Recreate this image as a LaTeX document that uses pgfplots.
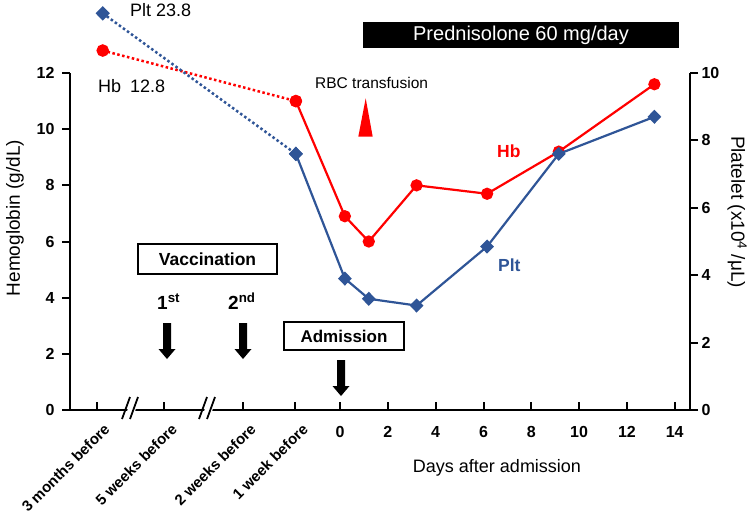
\documentclass[border=0pt]{standalone}
\usepackage{fontspec}
\setmainfont{Liberation Sans}
\usepackage{pgfplots}
\pgfplotsset{compat=1.18}
\definecolor{hbred}{RGB}{255,0,0}
\definecolor{pltblue}{RGB}{47,85,151}
\newcommand\fatarrow[3]{\fill[black] ({#1-4},#2) -- ({#1+4},#2) -- ({#1+4},{#3-10}) -- ({#1+8.5},{#3-10}) -- (#1,#3) -- ({#1-8.5},{#3-10}) -- ({#1-4},{#3-10}) -- cycle;}
\newcommand\brk[1]{%
  \fill[white] ({#1-7},419) -- ({#1+1},419) -- ({#1+7},397) -- ({#1-1},397) -- cycle;
  \draw[line width=1.8pt] ({#1-10},419) -- ({#1-2},397);
  \draw[line width=1.8pt] ({#1-2},419) -- ({#1+6},397);}
\begin{document}
\begin{tikzpicture}
\pgfplotsset{
  common/.style={scale only axis, width=620pt, height=337pt,
    at={(70pt,-410pt)}, anchor=south west,
    xmin=-11.30, xmax=14.64, clip=false,
    /pgf/number format/assume math mode=true,
    ticklabel style={font=\bfseries\fontsize{16}{18}\selectfont},
    axis line style={-, line width=2.2pt, black},
    major tick style={line width=2pt, black},
    major tick length=8pt,
  }
}
\begin{axis}[common, ymin=0, ymax=12,
  axis y line*=left, axis x line*=bottom,
  ytick={0,2,...,12}, xtick={0,2,...,14},
  xtick align=inside, ytick align=outside,
  yticklabel style={xshift=-4pt},
  xticklabel style={yshift=-13pt},
  extra x ticks={-10.18,-7.36,-4.06,-1.88},
  extra x tick labels={3 months before, 5 weeks before, 2 weeks before, 1 week before},
  extra x tick style={xticklabel style={font=\bfseries\fontsize{15}{17}\selectfont, rotate=45, anchor=north east, xshift=8pt, yshift=-0.6pt}},
]
\addplot[hbred, line width=2.5pt, dash pattern=on 2.5pt off 2.5pt, mark=*, mark size=5pt, mark options={solid}]
  coordinates {(-9.93,12.8) (-1.85,11.0)};
\addplot[hbred, line width=2.2pt, mark=*, mark size=5pt]
  coordinates {(-1.85,11.0) (0.2,6.9) (1.2,6.0) (3.2,8.0) (6.15,7.7) (9.15,9.2) (13.15,11.6)};
\end{axis}
\begin{axis}[common, ymin=0, ymax=10,
  axis y line*=right, axis x line=none,
  ytick={0,2,...,10}, ytick align=outside,
  yticklabel style={xshift=0pt},
]
\addplot[pltblue, line width=2.5pt, dash pattern=on 2.5pt off 2.5pt, mark=diamond*, mark size=5.5pt, mark options={solid, xscale=1.3}]
  coordinates {(-9.93,11.77) (-1.85,7.6)};
\addplot[pltblue, line width=2.2pt, mark=diamond*, mark size=5.5pt, mark options={xscale=1.3}]
  coordinates {(-1.85,7.6) (0.2,3.9) (1.2,3.3) (3.2,3.1) (6.15,4.85) (9.15,7.6) (13.15,8.7)};
\end{axis}
\begin{scope}[x=1pt, y=-1pt]
  % break marks
  \brk{132}
  \brk{209}
  % prednisolone bar
  \fill[black] (363,22) rectangle (679,48);
  \node[white, font=\fontsize{20}{24}\selectfont] at (521,35.5) {Prednisolone 60 mg/day};
  % value labels
  \node[anchor=base west, inner sep=0, font=\fontsize{18}{21}\selectfont] at (130,16) {Plt 23.8};
  \node[anchor=base west, inner sep=0, font=\fontsize{18}{21}\selectfont] at (98,92) {Hb\enspace 12.8};
  \node[anchor=base west, inner sep=0, font=\fontsize{15.5}{18}\selectfont] at (315,88) {RBC transfusion};
  \fill[hbred] (365.7,98.3) -- (372.7,136.7) -- (358.3,136.7) -- cycle;
  \node[anchor=base west, inner sep=0, hbred, font=\bfseries\fontsize{17.5}{21}\selectfont] at (497,157) {Hb};
  \node[anchor=base west, inner sep=0, pltblue, font=\bfseries\fontsize{17.5}{21}\selectfont] at (498,271) {Plt};
  % vaccination
  \draw[line width=1.4pt] (138,244) rectangle (277,274);
  \node[font=\bfseries\fontsize{17.5}{21}\selectfont] at (207.5,259) {Vaccination};
  \node[anchor=base west, inner sep=0, font=\bfseries\fontsize{19}{22}\selectfont] at (157,309) {1\textsuperscript{st}};
  \node[anchor=base west, inner sep=0, font=\bfseries\fontsize{19}{22}\selectfont] at (228,309) {2\textsuperscript{nd}};
  \fatarrow{167}{323}{359}
  \fatarrow{243}{323}{359}
  % admission
  \draw[line width=1.4pt] (284,322) rectangle (404,350);
  \node[font=\bfseries\fontsize{17}{20}\selectfont] at (344,336) {Admission};
  \fatarrow{341}{360}{396}
  % axis labels
  \node[rotate=90, font=\fontsize{19}{22}\selectfont] at (15,218) {Hemoglobin (g/dL)};
  \node[rotate=-90, font=\fontsize{19}{22}\selectfont] at (737,212) {Platelet (x10\textsuperscript{4} /μL)};
  \node[font=\fontsize{18}{21}\selectfont] at (497,468) {Days after admission};
  \pgfresetboundingbox
  \path (0,0) rectangle (749,520);
\end{scope}
\end{tikzpicture}
\end{document}
